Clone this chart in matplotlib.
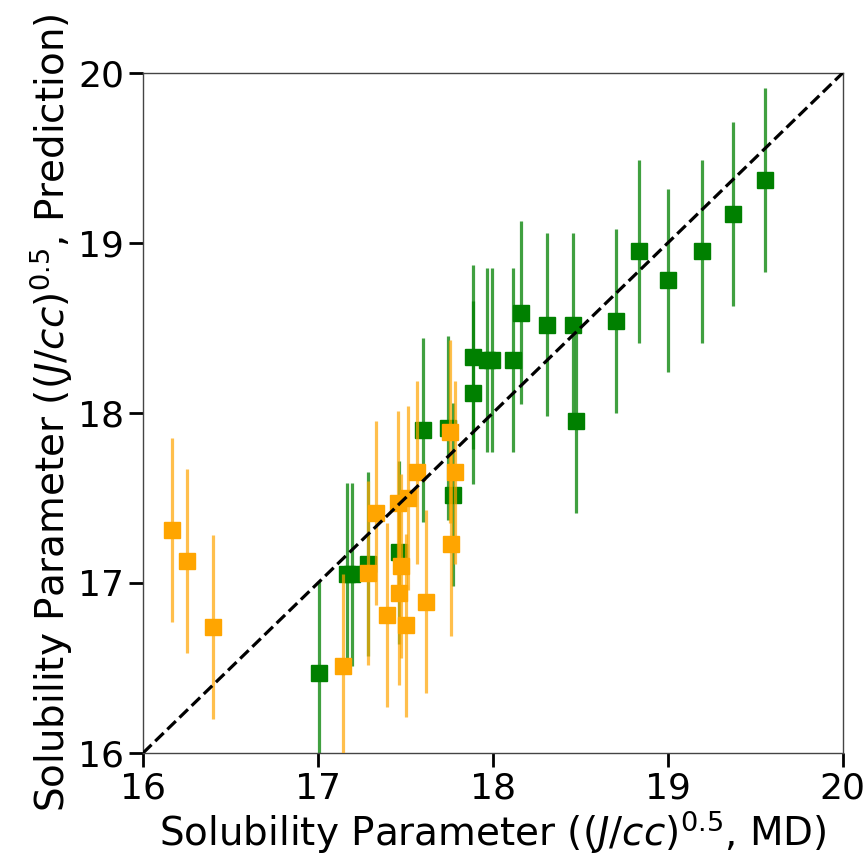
import matplotlib
matplotlib.use("Agg")
import matplotlib.pyplot as plt

# green set (x = MD, y = prediction)
green_x = [17.006, 17.164, 17.192, 17.288, 17.465, 17.602, 17.741, 17.773,
           17.884, 17.884, 17.964, 17.993, 18.116, 18.160, 18.310, 18.460,
           18.478, 18.703, 18.836, 19.000, 19.194, 19.370, 19.554]
green_y = [16.47, 17.05, 17.05, 17.11, 17.18, 17.90, 17.91, 17.52,
           18.33, 18.12, 18.31, 18.31, 18.31, 18.59, 18.52, 18.52,
           17.95, 18.54, 18.95, 18.78, 18.95, 19.17, 19.37]
green_err = [0.54, 0.54, 0.54, 0.54, 0.54, 0.54, 0.54, 0.54,
             0.54, 0.54, 0.54, 0.54, 0.54, 0.54, 0.54, 0.54,
             0.54, 0.54, 0.54, 0.54, 0.54, 0.54, 0.54]

# orange set
orange_x = [16.164, 16.250, 16.402, 17.145, 17.288, 17.331, 17.392, 17.459,
            17.516, 17.477, 17.465, 17.503, 17.564, 17.617, 17.754, 17.783,
            17.760]
orange_y = [17.31, 17.13, 16.74, 16.51, 17.06, 17.41, 16.81, 17.47,
            17.50, 17.10, 16.94, 16.75, 17.65, 16.89, 17.89, 17.65,
            17.23]
orange_err = [0.54, 0.54, 0.54, 0.54, 0.54, 0.54, 0.54, 0.54,
              0.54, 0.54, 0.54, 0.54, 0.54, 0.54, 0.54, 0.54,
              0.54]

lims = [16, 20]
ticks = [16, 17, 18, 19, 20]

fig = plt.figure(figsize=(8.67, 8.63), dpi=100)
ax = fig.add_axes([0.165, 0.1275, 0.807, 0.788])

# green
ax.errorbar(green_x, green_y, yerr=green_err, fmt="none", ecolor="green",
            elinewidth=2.3, alpha=0.75, zorder=2)
ax.plot(green_x, green_y, "s", color="green", markersize=11.5, zorder=3)

# orange
ax.errorbar(orange_x, orange_y, yerr=orange_err, fmt="none", ecolor="orange",
            elinewidth=2.3, alpha=0.7, zorder=4)
ax.plot(orange_x, orange_y, "s", color="orange", markersize=11.5, zorder=5)

ax.plot(lims, lims, "--", color="black", linewidth=2.3, zorder=6)

ax.set_xlim(lims)
ax.set_ylim(lims)
ax.set_xticks(ticks)
ax.set_yticks(ticks)
ax.tick_params(labelsize=26, length=10, width=2, direction="out")
for s in ax.spines.values():
    s.set_color("#444444")
    s.set_linewidth(1)

ax.set_xlabel(r"Solubility Parameter ($(J/cc)^{0.5}$, MD)", fontsize=28, labelpad=2)
ax.set_ylabel(r"Solubility Parameter ($(J/cc)^{0.5}$, Prediction)", fontsize=28, labelpad=2)

fig.savefig("out.png", dpi=100)
